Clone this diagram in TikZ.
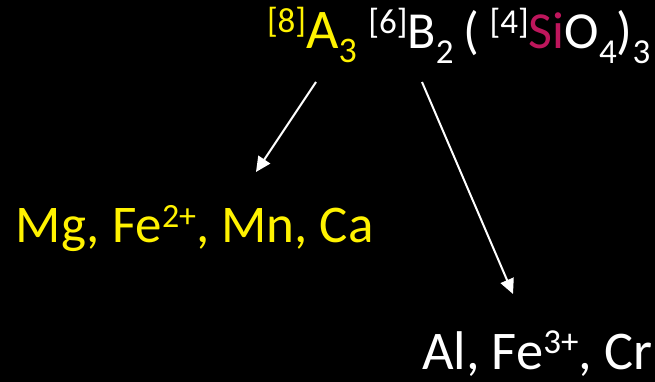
\documentclass[tikz,border=0pt]{standalone}
\usepackage{fontspec}
\setmainfont{Carlito}
\usetikzlibrary{arrows.meta}
\definecolor{siliconred}{RGB}{190,22,92}
\newcommand\fsz[1]{\fontsize{#1}{#1}\selectfont}
\newcommand\upx[3]{\raisebox{#2pt}{\fsz{#1}#3}}
\newcommand\dnx[3]{\raisebox{-#2pt}{\fsz{#1}#3}}
\tikzset{
  lbl/.style={anchor=base west, inner sep=0pt, outer sep=0pt, text=white},
  arr/.style={draw=white, line width=2pt, -{Triangle[length=15pt,width=14pt]}}
}
\begin{document}
\begin{tikzpicture}[x=1pt,y=-1pt]
\useasboundingbox[fill=black] (0,0) rectangle (655,382);
\node[lbl] (formula) at (267,49) {%
  {\color{yellow}\upx{35}{16}{[8]}\fsz{56}A\dnx{36}{14}{3}}%
  \fsz{52}\hspace{0.22em}\upx{35}{15}{[6]}B\dnx{35}{15}{2}\hspace{0.19em}(\hspace{0.2em}%
  \upx{35}{15}{[4]}{\color{siliconred}Si}O\dnx{35}{15}{4})\dnx{35}{15}{3}};
\node[lbl, text=yellow] (sitea) at (16,242) {\fsz{53}Mg, Fe\upx{34}{15}{2+}, Mn, Ca};
\node[lbl] (siteb) at (422,369) {\fsz{54.5}Al, Fe\upx{35}{16}{3+}, Cr};
\coordinate (a1) at (316,82);
\coordinate (a2) at (256,172);
\coordinate (b1) at (422,82);
\coordinate (b2) at (513,294);
\draw[arr] (a1) -- (a2);
\draw[arr] (b1) -- (b2);
\end{tikzpicture}
\end{document}
